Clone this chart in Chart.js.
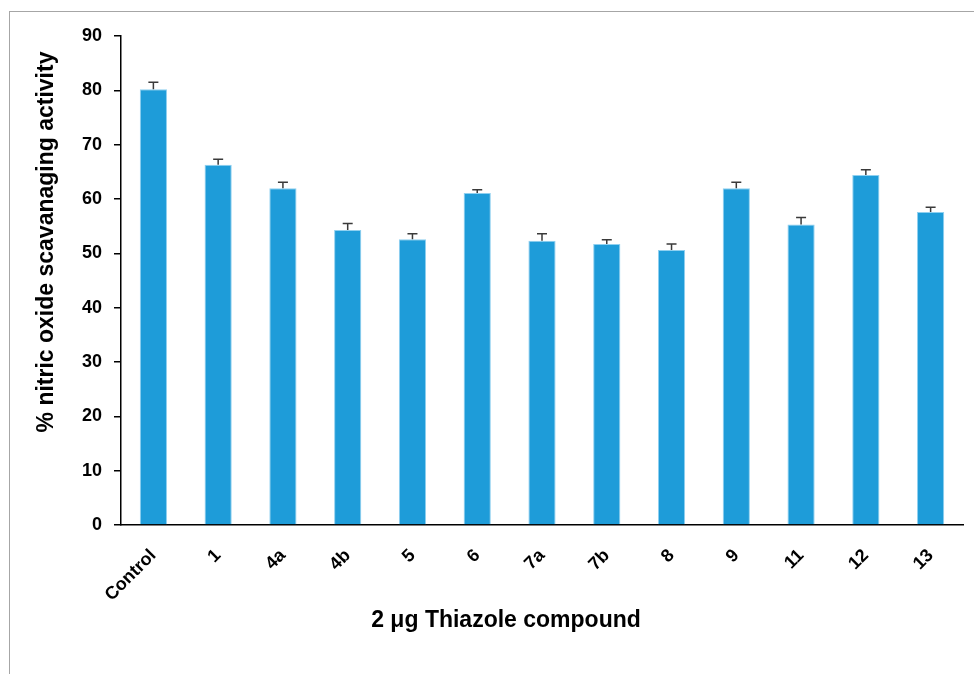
<!DOCTYPE html>
<html lang="en">
  <head>
    <meta charset="UTF-8" />
    <title>Nitric oxide scavenging activity</title>
    <script src="https://cdn.jsdelivr.net/npm/chart.js"></script>
    <style>
      body { margin: 0; background: #fff; }
      #frame {
        position: absolute; left: 9px; top: 11px; width: 1000px; height: 700px;
        border: 1px solid #a6a6a6;
      }
      #chart { position: absolute; left: 0; top: 0; }
    </style>
  </head>
  <body>
    <div id="frame"></div>
    <canvas id="chart" width="974" height="674"></canvas>

    <script>
      const compounds = ["Control", "1", "4a", "4b", "5", "6", "7a", "7b", "8", "9", "11", "12", "13"];
      const activity = [80.2, 66.3, 62.0, 54.3, 52.6, 61.1, 52.3, 51.7, 50.6, 62.0, 55.3, 64.4, 57.6];
      const errorUp = [1.3, 1.0, 1.1, 1.2, 1.0, 0.6, 1.3, 0.8, 1.1, 1.1, 1.3, 1.0, 0.9];
      const yTitle = "% nitric oxide scavanaging activity";
      const xTitle = "2 μg Thiazole compound";

      const font = "'Liberation Sans', Arial, sans-serif";

      // upper error bars, drawn from the bar value through the y scale
      const errorBars = {
        id: "errorBars",
        afterDatasetsDraw(chart) {
          const ctx = chart.ctx;
          const y = chart.scales.y;
          const meta = chart.getDatasetMeta(0);
          ctx.save();
          ctx.strokeStyle = "#3a3a3a";
          ctx.lineWidth = 1.5;
          meta.data.forEach((bar, i) => {
            const y0 = y.getPixelForValue(activity[i]);
            const y1 = y.getPixelForValue(activity[i] + errorUp[i]);
            ctx.beginPath();
            ctx.moveTo(bar.x, y0);
            ctx.lineTo(bar.x, y1);
            ctx.moveTo(bar.x - 5, y1);
            ctx.lineTo(bar.x + 5, y1);
            ctx.stroke();
          });
          ctx.restore();
        },
      };

      // axis titles, placed like the original figure
      const axisTitles = {
        id: "axisTitles",
        afterDraw(chart) {
          const ctx = chart.ctx;
          ctx.save();
          ctx.fillStyle = "#000";
          ctx.font = "bold 23px " + font;
          ctx.textAlign = "center";
          ctx.textBaseline = "middle";
          ctx.fillText(xTitle, 506, 621);
          ctx.translate(47, 242);
          ctx.rotate(-Math.PI / 2);
          ctx.fillText(yTitle, 0, 0);
          ctx.restore();
        },
      };

      const ctx = document.getElementById("chart").getContext("2d");
      new Chart(ctx, {
        type: "bar",
        data: {
          labels: compounds,
          datasets: [
            {
              data: activity,
              backgroundColor: "#1e9cd9",
              borderColor: "#8fd0f0",
              borderWidth: 1,
              barPercentage: 0.42,
              categoryPercentage: 1,
            },
          ],
        },
        options: {
          responsive: false,
          animation: false,
          layout: { padding: { top: 36, right: 11, left: 0, bottom: 0 } },
          plugins: { legend: { display: false }, tooltip: { enabled: false } },
          scales: {
            x: {
              grid: { display: false },
              border: { display: true, color: "#000", width: 1.5 },
              ticks: {
                color: "#000",
                font: { family: font, size: 18, weight: "bold" },
                maxRotation: 45,
                minRotation: 45,
                padding: 12,
              },
              afterFit: (scale) => { scale.height = 149; },
            },
            y: {
              min: 0,
              max: 90,
              grid: { drawOnChartArea: false, drawTicks: true, tickLength: 7, color: "#000", lineWidth: 1.5 },
              border: { display: true, color: "#000", width: 1.5 },
              ticks: {
                stepSize: 10,
                color: "#000",
                padding: 12,
                font: { family: font, size: 18, weight: "bold" },
              },
              afterFit: (scale) => { scale.width = 121; },
            },
          },
        },
        plugins: [errorBars, axisTitles],
      });
    </script>
  </body>
</html>
